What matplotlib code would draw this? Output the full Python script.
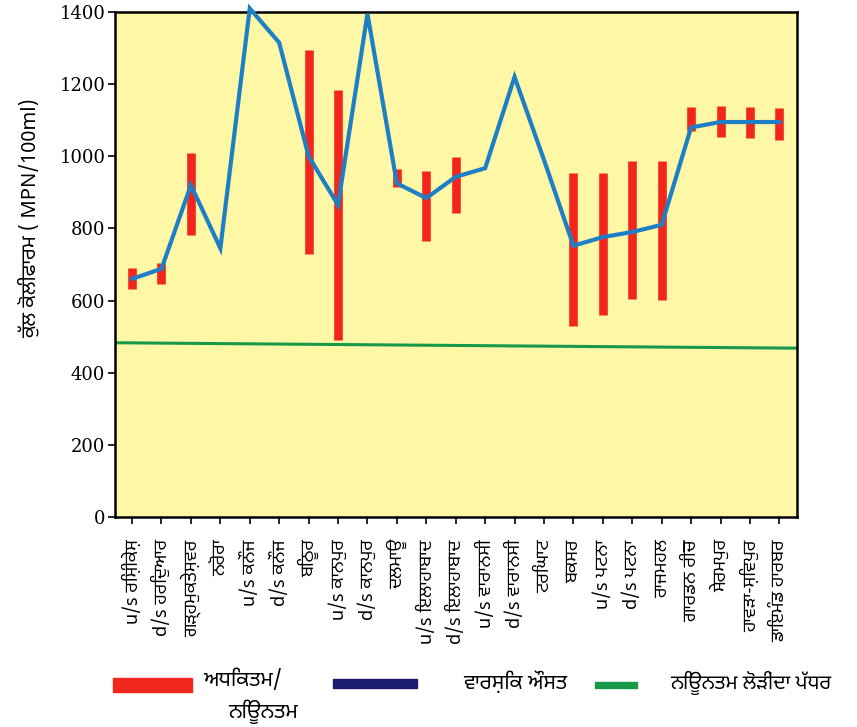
import matplotlib
matplotlib.use("Agg")
import matplotlib.pyplot as plt
from matplotlib.patches import Rectangle
import numpy as np

# ---------------------------------------------------------------
# Datos (coliformes totales, MPN/100ml)
# ---------------------------------------------------------------
estaciones = [
    "u/s ਰਿਸ਼ੀਕੇਸ਼", "d/s ਹਰਿਦੁਆਰ", "ਗੜ੍ਹਮੁਕਤੇਸ਼ਵਰ", "ਨਰੋਰਾ",
    "u/s ਕਨੌਜ", "d/s ਕਨੌਜ", "ਬਿਠੂਰ", "u/s ਕਾਨਪੁਰ", "d/s ਕਾਨਪੁਰ",
    "ਦਲਮਾਊ", "u/s ਇਲਾਹਾਬਾਦ", "d/s ਇਲਾਹਾਬਾਦ", "u/s ਵਾਰਾਨਸੀ",
    "d/s ਵਾਰਾਨਸੀ", "ਟਰਿਘਾਟ", "ਬਕਸਰ", "u/s ਪਟਨਾ", "d/s ਪਟਨਾ",
    "ਰਾਜਮਹਲ", "ਗਾਰਡਨ ਰੀਚ", "ਸੇਰਮਪੁਰ", "ਹਾਵੜਾ-ਸ਼ਿਵਪੁਰ", "ਡਾਇਮੰਡ ਹਾਰਬਰ",
]
promedio_anual = [660, 688, 920, 745, 1410, 1315, 1000, 865, 1395, 925,
                  884, 943, 967, 1220, 990, 752, 776, 790, 810, 1080,
                  1095, 1095, 1095]
# máximo / mínimo (None = sin barra)
maximo = [690, 705, 1008, None, None, None, 1295, 1185, None, 965,
          960, 998, None, None, None, 954, 954, 987, 987, 1137,
          1140, 1137, 1134]
minimo = [632, 646, 782, None, None, None, 729, 491, None, 915,
          766, 843, None, None, None, 530, 560, 604, 602, 1070,
          1054, 1050, 1045]
nivel_minimo = [483, 468]   # línea verde (izquierda, derecha)

y_ticks = [0, 200, 400, 600, 800, 1000, 1200, 1400]

leyenda_rango = ["ਅਧਿਕਤਮ/", "ਨਿਊਨਤਮ"]
leyenda_media = "ਵਾਰਸ਼ਿਕ ਔਸਤ"
leyenda_nivel = "ਨਿਊਨਤਮ ਲੋੜੀਂਦਾ ਪੱਧਰ"
etiqueta_y = "ਕੁੱਲ ਕੋਲੀਫਾਰਮ ( MPN/100ml)"

FUENTE = ["Noto Sans Gurmukhi", "Lohit Gurmukhi", "Raavi", "FreeSans",
          "DejaVu Sans"]
plt.rcParams["font.family"] = FUENTE

# ---------------------------------------------------------------
# Figura
# ---------------------------------------------------------------
fig = plt.figure(figsize=(8.57, 7.27), dpi=100)
ax = fig.add_axes([0.1342, 0.2889, 0.7958, 0.6946])
ax.set_facecolor("#fdf7a6")

x = np.arange(len(estaciones))
xlim = (-0.58, len(estaciones) - 1 + 0.6)

ax.plot(xlim, nivel_minimo, color="#17994a", lw=2.2, zorder=2)

for i, (hi, lo) in enumerate(zip(maximo, minimo)):
    if hi is None:
        continue
    ax.plot([x[i], x[i]], [lo, hi], color="#f2261c", lw=6.2,
            solid_capstyle="butt", zorder=3)

ax.plot(x, promedio_anual, color="#1f7fc6", lw=3.0, zorder=4,
        solid_joinstyle="miter", clip_on=False)

ax.set_xlim(*xlim)
ax.set_ylim(0, 1400)
ax.set_yticks(y_ticks)
ax.set_yticklabels([str(v) for v in y_ticks], family="DejaVu Serif",
                   fontsize=13)
ax.set_xticks(x)
ax.set_xticklabels(estaciones, rotation=90, fontsize=13, va="top",
                   ha="center")
ax.tick_params(axis="both", direction="out", length=5, width=1.2,
               color="black")
ax.tick_params(axis="x", pad=11)
ax.tick_params(axis="y", pad=2)
for s in ax.spines.values():
    s.set_linewidth(1.8)

fig.text(0.035, 0.70, etiqueta_y, rotation=90, ha="center", va="center",
         fontsize=14.5)

# ---------------------------------------------------------------
# Leyenda manual
# ---------------------------------------------------------------
fig.add_artist(Rectangle((0.132, 0.0481), 0.092, 0.0193,
                         transform=fig.transFigure, color="#f2261c"))
fig.text(0.237, 0.0646, leyenda_rango[0], fontsize=15, va="center")
fig.text(0.266, 0.0206, leyenda_rango[1], fontsize=15, va="center")

fig.add_artist(Rectangle((0.3886, 0.0536), 0.098, 0.0124,
                         transform=fig.transFigure, color="#1c1c6e"))
fig.text(0.540, 0.0605, leyenda_media, fontsize=15, va="center")

fig.add_artist(Rectangle((0.694, 0.0536), 0.049, 0.0083,
                         transform=fig.transFigure, color="#17994a"))
fig.text(0.782, 0.0605, leyenda_nivel, fontsize=14.5, va="center")

fig.savefig("out.png", dpi=100, facecolor="white")
plt.close(fig)
